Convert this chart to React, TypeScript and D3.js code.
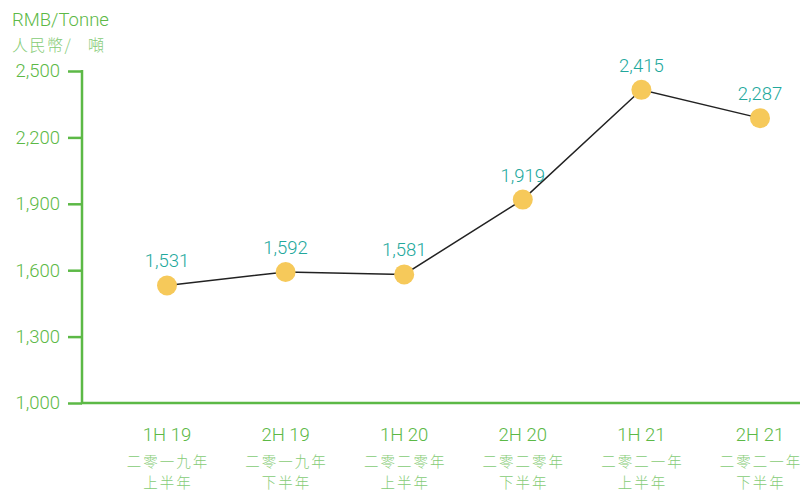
import React, { useRef, useEffect } from "react";
import * as d3 from "d3";

const periods = ["1H 19", "2H 19", "1H 20", "2H 20", "1H 21", "2H 21"];
const periodsZh = [
  ["二零一九年", "上半年"],
  ["二零一九年", "下半年"],
  ["二零二零年", "上半年"],
  ["二零二零年", "下半年"],
  ["二零二一年", "上半年"],
  ["二零二一年", "下半年"],
];
const prices = [1531, 1592, 1581, 1919, 2415, 2287];
const yTicks = [1000, 1300, 1600, 1900, 2200, 2500];

const GREEN = "#5cb946";
const LIGHT_GREEN = "#86cc76";
const TEAL = "#22a89c";
const DOT = "#f6c95a";

const App = () => {
  const ref = useRef<SVGSVGElement>(null);

  useEffect(() => {
    const svg = d3.select(ref.current);
    svg.selectAll("*").remove();

    const x = d3.scalePoint<string>().domain(periods).range([167, 760]);
    const y = d3.scaleLinear().domain([1000, 2500]).range([403, 71]);
    const font = "Roboto, 'Liberation Sans', Arial, sans-serif";
    const cjk = "'Noto Sans CJK TC', sans-serif";

    // axis titles
    svg.append("text").attr("x", 12).attr("y", 26)
      .attr("fill", GREEN).attr("font-family", font).attr("font-size", 18.5).attr("font-weight", 300)
      .text("RMB/Tonne");
    const zh = svg.append("text").attr("y", 51)
      .attr("fill", LIGHT_GREEN).attr("font-family", cjk).attr("font-size", 16)
      .attr("font-weight", 300).attr("letter-spacing", 1.5);
    zh.append("tspan").attr("x", 12).text("人民幣/");
    zh.append("tspan").attr("x", 88).text("噸");

    // y axis
    const yAxis = d3.axisLeft(y).tickValues(yTicks).tickSize(14).tickPadding(8)
      .tickFormat((d) => d3.format(",")(d as number));
    const gy = svg.append("g").attr("transform", "translate(82,0)").call(yAxis);
    gy.select(".domain").remove();
    gy.selectAll(".tick line").attr("stroke", GREEN).attr("stroke-width", 2.5);
    gy.selectAll(".tick text").attr("fill", GREEN).attr("font-family", font)
      .attr("font-size", 18.5).attr("font-weight", 300);
    svg.append("line").attr("x1", 82).attr("x2", 82).attr("y1", 70).attr("y2", 404)
      .attr("stroke", GREEN).attr("stroke-width", 2.5);
    svg.append("line").attr("x1", 81).attr("x2", 800).attr("y1", 403).attr("y2", 403)
      .attr("stroke", GREEN).attr("stroke-width", 2.5);

    // x labels: english line, then two chinese lines
    const gx = svg.append("g");
    periods.forEach((p, i) => {
      gx.append("text").attr("x", x(p)!).attr("y", 441).attr("text-anchor", "middle")
        .attr("fill", GREEN).attr("font-family", font).attr("font-size", 18.5)
        .attr("font-weight", 300).text(p);
      periodsZh[i].forEach((line, j) => {
        gx.append("text").attr("x", x(p)! + 1).attr("y", 467 + j * 21).attr("text-anchor", "middle")
          .attr("fill", LIGHT_GREEN).attr("font-family", cjk)
          .attr("font-size", 14.5).attr("font-weight", 300)
          .attr("letter-spacing", 2).text(line);
      });
    });

    // line
    const line = d3.line<number>().x((_, i) => x(periods[i])!).y((d) => y(d));
    svg.append("path").datum(prices).attr("d", line).attr("fill", "none")
      .attr("stroke", "#222").attr("stroke-width", 1.5);

    svg.selectAll("circle.dot").data(prices).enter().append("circle")
      .attr("class", "dot")
      .attr("cx", (_, i) => x(periods[i])!).attr("cy", (d) => y(d)).attr("r", 10)
      .attr("fill", DOT);

    svg.selectAll("text.val").data(prices).enter().append("text")
      .attr("class", "val")
      .attr("x", (_, i) => x(periods[i])!).attr("y", (d) => y(d) - 18)
      .attr("text-anchor", "middle").attr("fill", TEAL)
      .attr("font-family", font).attr("font-size", 18.5).attr("font-weight", 300)
      .text((d) => d3.format(",")(d));
  }, []);

  return (
    <svg ref={ref} width={801} height={493}
      style={{ position: "absolute", left: 0, top: 0, background: "#fff" }} />
  );
};

export default App;
